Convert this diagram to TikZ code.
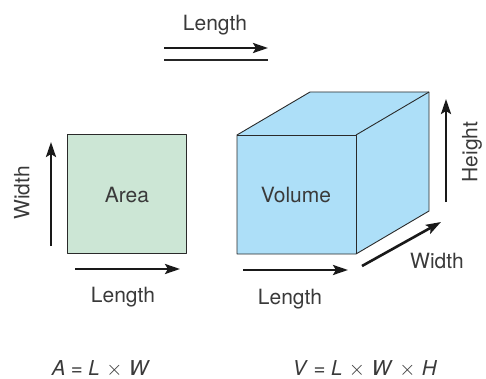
\documentclass[tikz,border=0pt]{standalone}
\usepackage{fontspec}
\setmainfont{TeX Gyre Heros}
\usetikzlibrary{arrows.meta}
\definecolor{txt}{HTML}{3A3A3A}
\definecolor{areafill}{HTML}{CCE6D5}
\definecolor{volfill}{HTML}{ADDFF8}
\definecolor{edge}{HTML}{2A2A2A}
\newcommand{\tms}{\hspace{6.5pt}$\times$\hspace{6.5pt}}
\newcommand{\eqs}{\hspace{5.5pt}=\hspace{5.5pt}}
\tikzset{
  lbl/.style={text=txt, font=\fontsize{21}{24}\selectfont, inner sep=0pt},
  formula/.style={text=txt, font=\fontsize{20.5}{24}\selectfont, inner sep=0pt},
  dimarrow/.style={line width=2.6pt, draw=black!90, -{Stealth[length=15pt,width=10pt,inset=3pt]}},
  faceline/.style={draw=edge, line width=0.9pt, line join=round},
}
\begin{document}
\begin{tikzpicture}[x=1pt,y=-1pt]
\useasboundingbox (0,0) rectangle (486,379);
% top legend
\node[lbl] (tlen) at (215,25) {Length};
\coordinate (ta1) at (164,48);
\coordinate (ta2) at (268,48);
\coordinate (tb1) at (164,60);
\coordinate (tb2) at (268,60);
\draw[dimarrow] (ta1) -- (ta2);
\draw[line width=1.5pt, draw=black!85] (tb1) -- (tb2);
% area square
\node[faceline, fill=areafill, minimum width=119pt, minimum height=119pt, inner sep=0pt, anchor=north west] (sq) at (67,134) {};
\node[lbl] (area) at (127,195) {Area};
\coordinate (wa1) at (51,246);
\coordinate (wa2) at (51,142);
\draw[dimarrow] (wa1) -- (wa2);
\node[lbl, rotate=90] (wlab) at (22,193) {Width};
\coordinate (la1) at (75,269);
\coordinate (la2) at (180,269);
\draw[dimarrow] (la1) -- (la2);
\node[lbl] (llab) at (123,297) {Length};
% cube
\coordinate (fa) at (237,135);
\coordinate (fb) at (356,135);
\coordinate (fc) at (356,254);
\coordinate (fd) at (237,254);
\coordinate (ba) at (310,92);
\coordinate (bb) at (429,92);
\coordinate (bc) at (429,211);
\fill[volfill] (fd) -- (fa) -- (ba) -- (bb) -- (bc) -- (fc) -- cycle;
\draw[faceline] (fd) -- (fa) -- (ba) -- (bb) -- (bc) -- (fc) -- cycle;
\draw[faceline] (fa) -- (fb) -- (fc);
\draw[faceline] (fb) -- (bb);
\node[lbl] (vol) at (296,195) {Volume};
\coordinate (ha1) at (446,202);
\coordinate (ha2) at (446,99);
\draw[dimarrow] (ha1) -- (ha2);
\node[lbl, rotate=90] (hlab) at (472,152) {Height};
\coordinate (da1) at (362,266);
\coordinate (da2) at (441,222);
\draw[dimarrow] (da1) -- (da2);
\node[lbl] (wlab2) at (437,261) {Width};
\coordinate (cl1) at (243,270);
\coordinate (cl2) at (348,270);
\draw[dimarrow] (cl1) -- (cl2);
\node[lbl] (clab) at (290,299) {Length};
% formulas
\node[formula] (fA) at (101,369) {\textit{A}\eqs\textit{L}\tms\textit{W}};
\node[formula] (fV) at (365,369) {\textit{V}\eqs\textit{L}\tms\textit{W}\tms\textit{H}};
\end{tikzpicture}
\end{document}
